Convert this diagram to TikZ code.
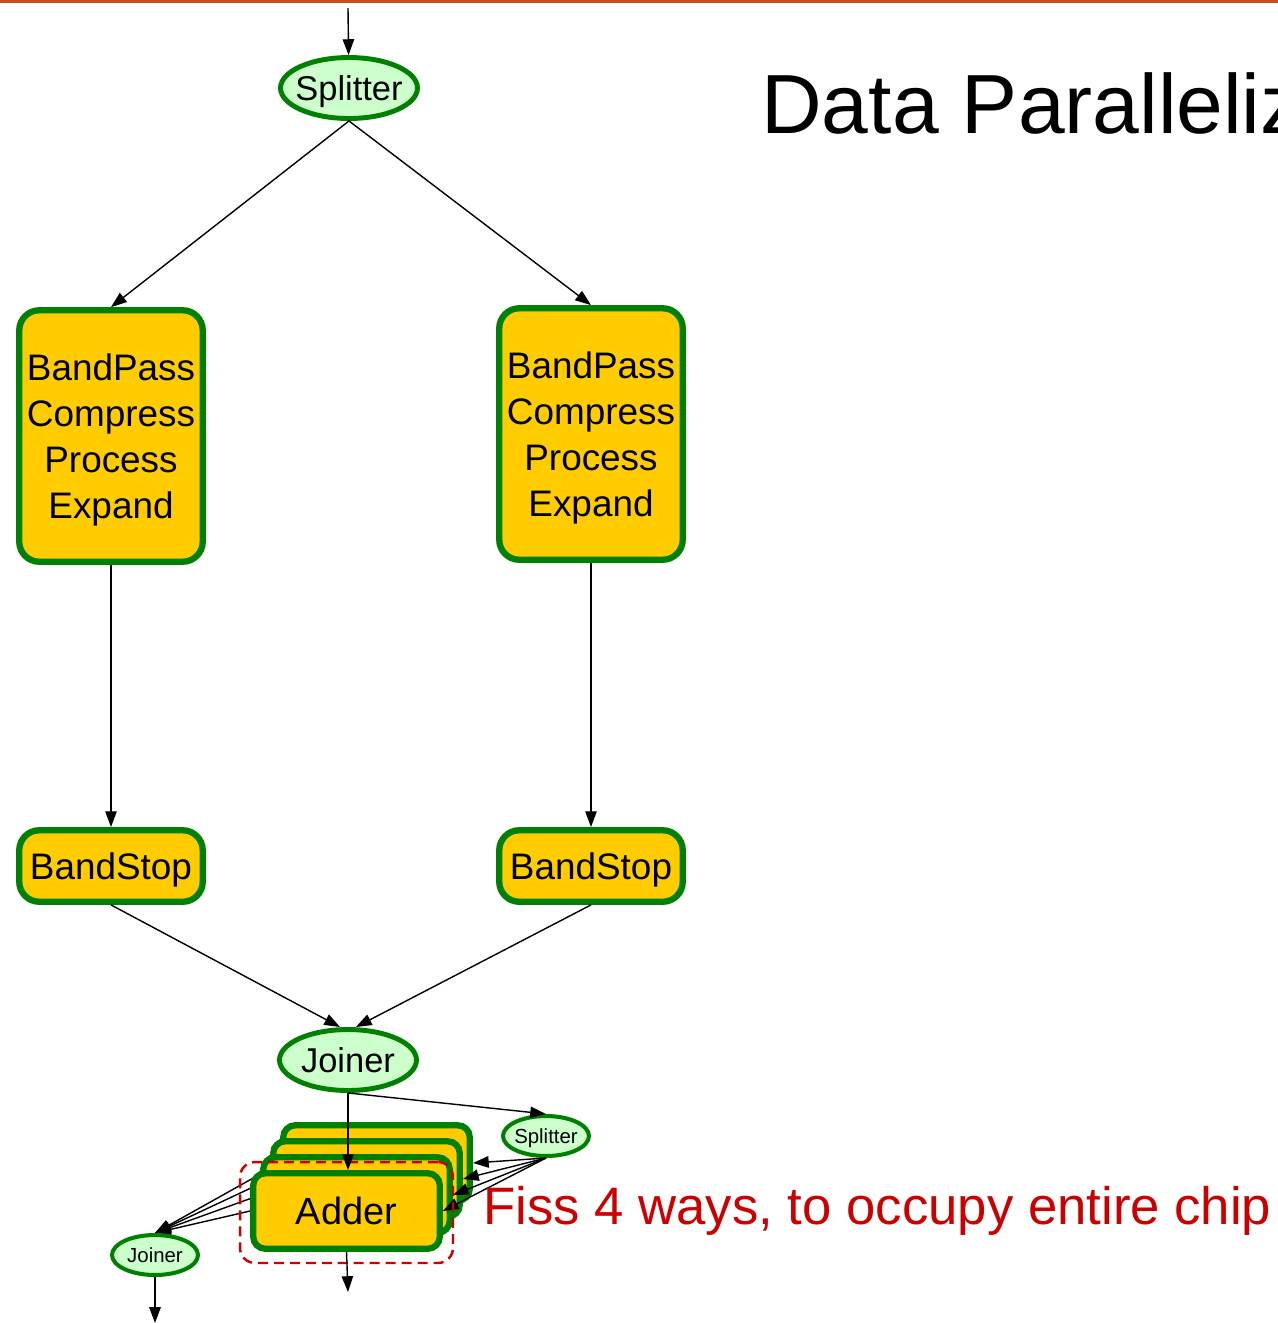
\documentclass[tikz,border=0pt]{standalone}
\usepackage{fontspec}
\setmainfont{Liberation Sans}
\usetikzlibrary{shapes.geometric,arrows.meta,backgrounds}

\begin{document}
\begin{tikzpicture}[x=0.02cm,y=-0.02cm,
  >={Triangle[length=9pt,width=6.5pt]},
  flow/.style={->,line width=0.8pt},
  filterbox/.style={draw=streamgreen,fill=filteryellow,line width=3.6pt,rounded corners=0.4cm,
    align=center,inner sep=0pt,text depth=0pt,minimum width=3.67cm,font=\fontsize{21}{26.2}\selectfont},
  adderbox/.style={draw=streamgreen,fill=filteryellow,line width=3.6pt,rounded corners=0.24cm,
    inner sep=0pt,text depth=0pt,minimum width=3.73cm,minimum height=1.51cm,font=\fontsize{21.6}{26}\selectfont},
  bigjoin/.style={ellipse,draw=streamgreen,fill=joinergreen,line width=2.8pt,inner xsep=-3pt,inner ysep=0pt,
    text depth=0pt,minimum width=2.74cm,minimum height=1.22cm,font=\fontsize{19.6}{23}\selectfont},
  smalljoin/.style={ellipse,draw=streamgreen,fill=joinergreen,line width=2.3pt,inner xsep=-1pt,inner ysep=0pt,
    text depth=0pt,minimum width=1.72cm,minimum height=0.8cm,font=\fontsize{11.6}{14}\selectfont}]

% Colors
\definecolor{streamgreen}{RGB}{0,128,0}
\definecolor{filteryellow}{RGB}{255,204,0}
\definecolor{joinergreen}{RGB}{204,255,204}
\definecolor{fissred}{RGB}{204,0,0}
\definecolor{slideorange}{RGB}{200,80,30}

% Parameters
\def\xL{111}
\def\xR{591}
\def\dx{10}
\def\dy{16}

\useasboundingbox (0,0) rectangle (1278,1323);
\clip (0,0) rectangle (1278,1323);

% Slide rule and title
\draw[slideorange,line width=1.7pt] (0,1) -- (1278,1);
\node[anchor=base west,inner sep=0pt,font=\fontsize{47.8}{50}\selectfont] (title) at (761,133) {Data Paralleliz};

% Upper stream graph
\coordinate (in) at (348,8);
\node[bigjoin] (split) at (349,88) {Splitter};
\node[filterbox,minimum height=5.03cm] (bpL) at (\xL,436) {BandPass\\Compress\\Process\\Expand};
\node[filterbox,minimum height=5.03cm] (bpR) at (\xR,434) {BandPass\\Compress\\Process\\Expand};
\node[filterbox,minimum height=1.43cm] (bsL) at (\xL,866) {BandStop};
\node[filterbox,minimum height=1.43cm] (bsR) at (\xR,866) {BandStop};
\node[bigjoin] (join) at (348,1060) {Joiner};

\draw[flow] (in) -- (split);
\draw[flow] (split.south) -- (bpL.north);
\draw[flow] (split.south) -- (bpR.north);
\draw[flow] (bpL) -- (bsL);
\draw[flow] (bpR) -- (bsR);
\draw[flow] (bsL.south) -- ([xshift=-4.5pt]join.north);
\draw[flow] (bsR.south) -- ([xshift=4.5pt]join.north);

% Fissed adders
\node[smalljoin] (split2) at (546,1136) {Splitter};
\node[smalljoin] (join2) at (155,1255) {Joiner};
\foreach \i in {3,2,1} {
  \node[adderbox] (add\i) at ({346.5+\dx*\i},{1211-\dy*\i}) {};
}
\node[adderbox] (add0) at (346.5,1211) {Adder};

\begin{pgfonlayer}{background}
\foreach \i in {0,...,3} {
  \draw[flow] (add\i.west) -- (join2.north);
}
\end{pgfonlayer}
\foreach \i in {0,...,3} {
  \draw[flow] (split2.south) -- (add\i.east);
}

\node[draw=fissred,line width=1.4pt,dash pattern=on 5.7pt off 3.4pt,rounded corners=0.3cm,
  minimum width=4.26cm,minimum height=2.02cm] (fissbox) at (346.5,1212.5) {};
\node[anchor=base west,inner sep=0pt,text=fissred,font=\fontsize{30}{34}\selectfont] (fiss) at (483,1224) {Fiss 4 ways, to occupy entire chip};

\coordinate (out) at (348,1292);
\coordinate (out2) at (155,1323);
\draw[flow] (join.south) -- (join.south |- add0.north);
\draw[flow] (join.south) -- (split2.north);
\draw[flow] (add0.south) -- (out);
\draw[flow] (join2.south) -- (out2);
\end{tikzpicture}
\end{document}
